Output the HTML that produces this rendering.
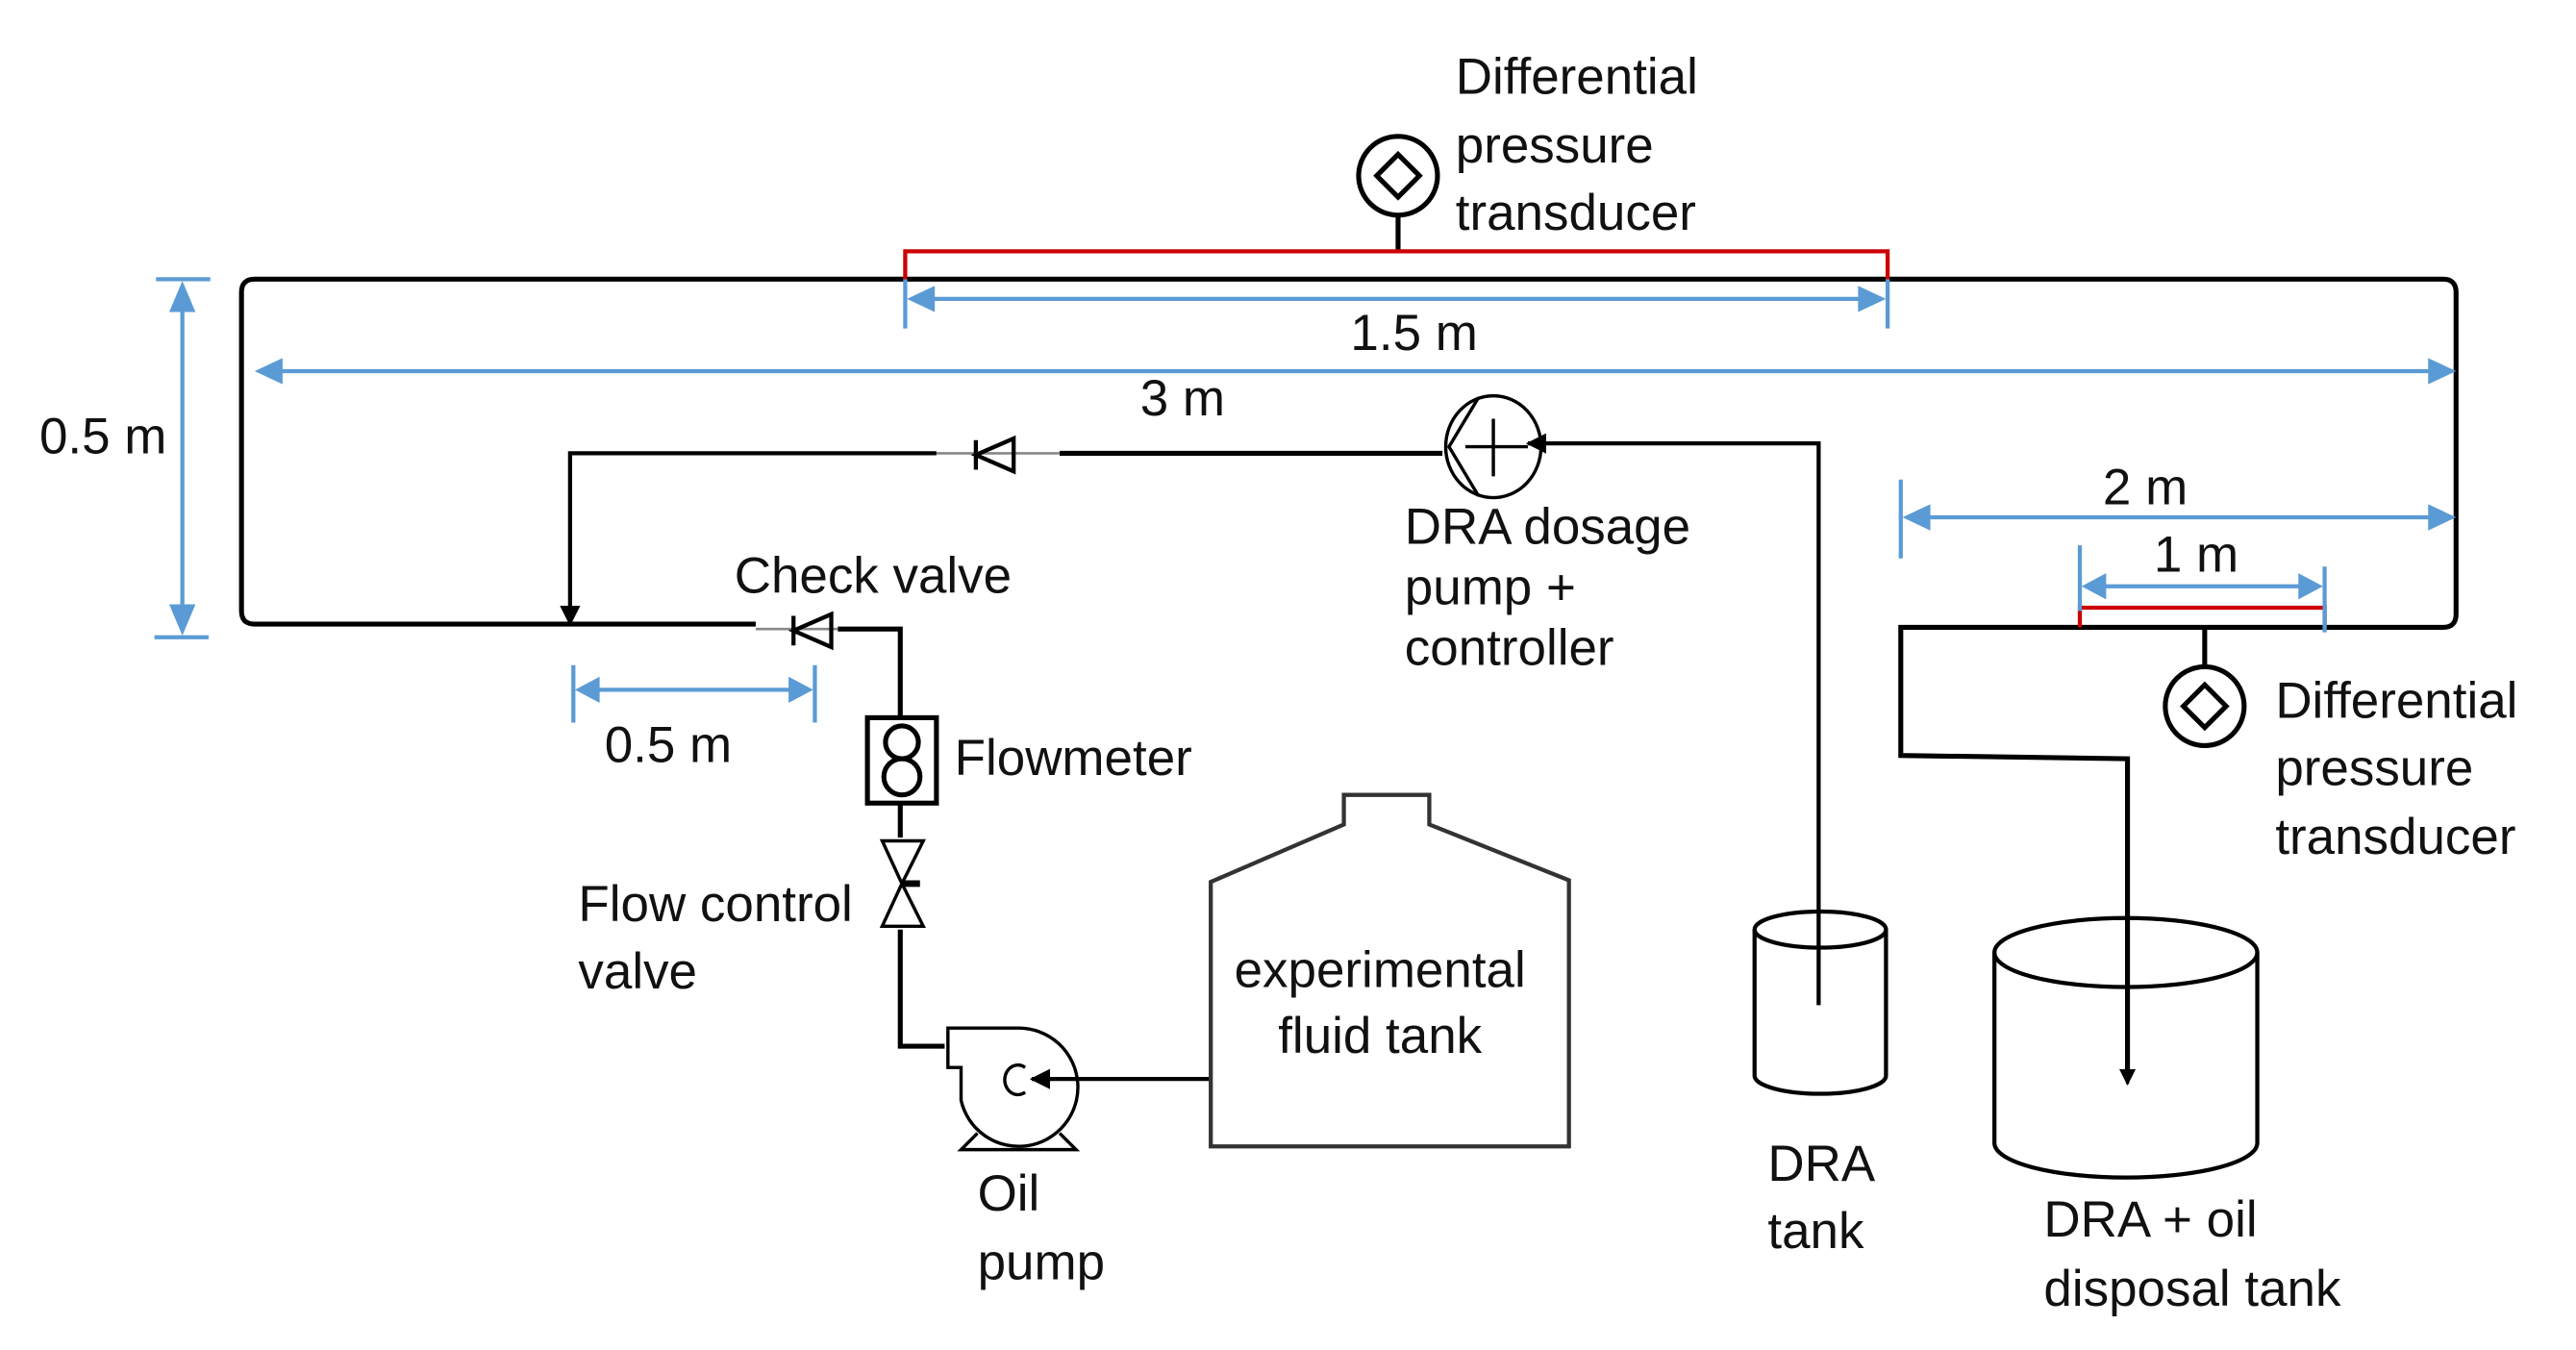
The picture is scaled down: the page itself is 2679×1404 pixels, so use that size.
<!DOCTYPE html>
<html><head><meta charset="utf-8"><style>html,body{margin:0;padding:0;background:#fff}svg{display:block}text{font-family:"Liberation Sans Narrow","Liberation Sans",sans-serif;font-size:31px;fill:#111}</style></head>
<body>
<svg width="2679" height="1404" viewBox="0 0 1568 822" preserveAspectRatio="none" xmlns="http://www.w3.org/2000/svg">
<defs>
<marker id="bk" viewBox="0 0 10 10" refX="9" refY="5" markerWidth="5" markerHeight="5" orient="auto"><path d="M0,0 L10,5 L0,10 z" fill="#000"/></marker>
</defs>
<g fill="none" stroke="#000" stroke-width="3">
<path d="M460,380 L155,380 Q147,380 147,372 L147,178 Q147,170 155,170 L1487,170 Q1495,170 1495,178 L1495,374 Q1495,382 1487,382 L1157,382 L1157,460 L1295,462 L1295,655"/>
<path d="M510,383 L548,383 L548,437"/>
<path d="M548,490 L548,510"/>
<path d="M548,566 L548,637 L575,637"/>
<path d="M737,657 L628,657" marker-end="url(#bk)" stroke-width="2.5"/>
<path d="M1107,612 L1107,270 L930,270" stroke-width="2.5" marker-end="url(#bk)"/>
<path d="M878,276 L645,276"/>
<path d="M570,276 L347,276 L347,380" stroke-width="2.5" marker-end="url(#bk)"/>
<path d="M1295,620 L1295,660" stroke-width="2" marker-end="url(#bk)"/>
</g>
<g fill="none" stroke="#000" stroke-width="2.5">
<path d="M460,383 L510,383" stroke="#888" stroke-width="1.5"/>
<path d="M483,375 L483,393 M483,384 L506,374 L506,394 Z"/>
<path d="M570,276 L645,276" stroke="#888" stroke-width="1.5"/>
<path d="M594,268 L594,286 M594,277 L617,267 L617,287 Z"/>
</g>
<g fill="none" stroke="#000" stroke-width="3">
<rect x="528" y="437" width="42" height="52"/>
<circle cx="549" cy="452" r="10"/><circle cx="549" cy="473" r="11"/>
</g>
<g fill="none" stroke="#000" stroke-width="2">
<path d="M537,512 L562,512 L549,538 Z M537,564 L562,564 L549,538 Z"/>
<path d="M549,538 L560,538" stroke-width="4"/>
</g>
<g fill="none" stroke="#000" stroke-width="2">
<path d="M577,626 L620,626 A36,36 0 1 1 585,670 L585,650 L577,650 Z"/>
<path d="M624,650 A8,9 0 1 0 624,665"/>
<path d="M595,690 L585,700 L655,700 L645,690"/>
</g>
<path d="M737,698 L737,537 L818,502 L818,484 L870,484 L870,502 L955,536 L955,698 Z" fill="none" stroke="#333" stroke-width="2.5"/>
<g fill="none" stroke="#000" stroke-width="2">
<ellipse cx="909" cy="272" rx="29" ry="31"/>
<path d="M900,242 L882,272 L900,302 M892,272 L930,272 M909,255 L909,290"/>
</g>
<g fill="none" stroke="#000" stroke-width="2.5">
<ellipse cx="1108" cy="566" rx="40" ry="11"/>
<path d="M1068,566 L1068,655 A40,11 0 0 0 1148,655 L1148,566"/>
<ellipse cx="1294" cy="580" rx="80" ry="21"/>
<path d="M1214,580 L1214,696 A80,21 0 0 0 1374,696 L1374,580"/>
</g>
<g fill="none" stroke="#000" stroke-width="3">
<circle cx="851" cy="107" r="24"/><path d="M851,94 L864,107 L851,120 L838,107 Z"/><path d="M851,131 L851,153"/>
<circle cx="1342" cy="430" r="24"/><path d="M1342,417 L1355,430 L1342,443 L1329,430 Z"/><path d="M1342,406 L1342,382"/>
</g>
<g fill="none" stroke="#c00" stroke-width="2.5">
<path d="M551,170 L551,153 L1149,153 L1149,170"/>
<path d="M1266,382 L1266,370 L1415,370 L1415,382"/>
</g>
<g fill="none" stroke="#5b9bd5" stroke-width="2.5">
<path d="M160,226 L1488,226"/>
<path d="M557,182 L1143,182 M551,170 L551,200 M1149,170 L1149,200"/>
<path d="M111,178 L111,380 M95,170 L128,170 M94,388 L127,388"/>
<path d="M1162,315 L1488,315 M1157,292 L1157,340"/>
<path d="M1272,357 L1409,357 M1266,332 L1266,372 M1415,345 L1415,385"/>
<path d="M355,420 L490,420 M349,405 L349,440 M496,405 L496,440"/>
</g>
<g fill="#5b9bd5">
<path d="M155,226 L172,218 L172,234 Z M1495,226 L1478,218 L1478,234 Z"/>
<path d="M552,182 L569,174 L569,190 Z M1148,182 L1131,174 L1131,190 Z"/>
<path d="M111,171 L103,190 L119,190 Z M111,387 L103,368 L119,368 Z"/>
<path d="M1158,315 L1175,307 L1175,323 Z M1495,315 L1478,307 L1478,323 Z"/>
<path d="M1267,357 L1282,349 L1282,365 Z M1414,357 L1399,349 L1399,365 Z"/>
<path d="M350,420 L365,412 L365,428 Z M495,420 L480,412 L480,428 Z"/>
</g>
<g>
<text x="886" y="57">Differential</text><text x="886" y="99">pressure</text><text x="886" y="140">transducer</text>
<text x="822" y="213">1.5 m</text>
<text x="694" y="253">3 m</text>
<text x="24" y="276">0.5 m</text>
<text x="855" y="331">DRA dosage</text><text x="855" y="368">pump +</text><text x="855" y="405">controller</text>
<text x="1280" y="307">2 m</text>
<text x="1311" y="348">1 m</text>
<text x="1385" y="437">Differential</text><text x="1385" y="478">pressure</text><text x="1385" y="520">transducer</text>
<text x="447" y="361">Check valve</text>
<text x="368" y="464">0.5 m</text>
<text x="581" y="472">Flowmeter</text>
<text x="352" y="561">Flow control</text><text x="352" y="602">valve</text>
<text x="595" y="737">Oil</text><text x="595" y="779">pump</text>
<text x="840" y="601" text-anchor="middle">experimental</text><text x="840" y="641" text-anchor="middle">fluid tank</text>
<text x="1076" y="719">DRA</text><text x="1076" y="760">tank</text>
<text x="1244" y="753">DRA + oil</text><text x="1244" y="795">disposal tank</text>
</g>
</svg>
</body></html>
